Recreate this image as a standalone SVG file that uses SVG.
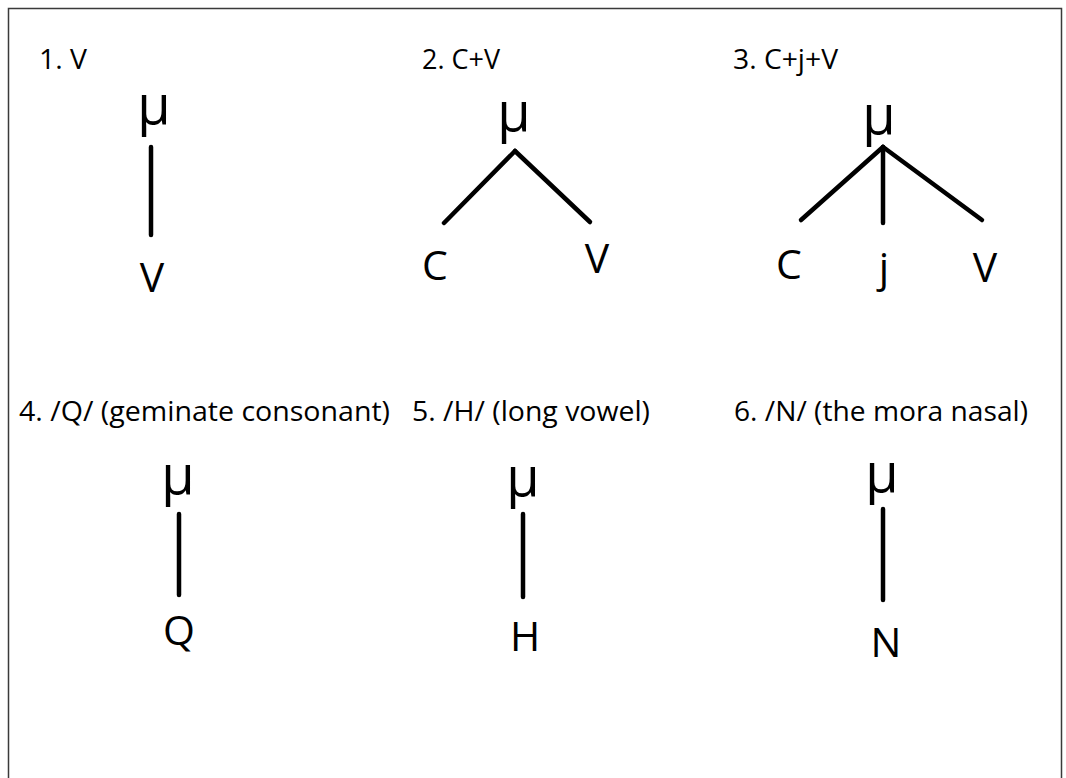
<svg xmlns="http://www.w3.org/2000/svg" width="1066" height="778" viewBox="0 0 1066 778">
  <style>
    .title { font-family: "Open Sans", "Liberation Sans", sans-serif; font-size: 27px; fill: #000; }
    .mu { font-family: "Open Sans", "Liberation Sans", sans-serif; font-size: 54px; fill: #000; text-anchor: middle; }
    .seg { font-family: "Open Sans", "Liberation Sans", sans-serif; font-size: 41px; fill: #000; text-anchor: middle; }
    .link { stroke: #000; stroke-width: 4.5; stroke-linecap: round; fill: none; }
  </style>
  <rect width="1066" height="778" fill="#fff"/>
  <!-- frame: left, top and right sides only -->
  <path d="M8.5 778 V8.5 H1061.5 V778" fill="none" stroke="#3a3a3a" stroke-width="1.5"/>

  <g id="connectors">
    <line class="link" x1="151" y1="147" x2="151" y2="235"/>
    <line class="link" x1="515" y1="151" x2="444" y2="223"/>
    <line class="link" x1="515" y1="151" x2="590" y2="222"/>
    <line class="link" x1="883" y1="147" x2="801" y2="220"/>
    <line class="link" x1="883" y1="147" x2="883" y2="223"/>
    <line class="link" x1="883" y1="147" x2="982" y2="220"/>
    <line class="link" x1="179" y1="514" x2="179" y2="595"/>
    <line class="link" x1="523" y1="514" x2="523" y2="597"/>
    <line class="link" x1="883" y1="509" x2="883" y2="600"/>
  </g>

  <g id="panel-1">
    <text class="title" x="39" y="69" textLength="48" lengthAdjust="spacingAndGlyphs">1. V</text>
    <text class="mu" x="154" y="124">μ</text>
    <text class="seg" x="152" y="292">V</text>
  </g>
  <g id="panel-2">
    <text class="title" x="422" y="69" textLength="78" lengthAdjust="spacingAndGlyphs">2. C+V</text>
    <text class="mu" x="514" y="131">μ</text>
    <text class="seg" x="435" y="280">C</text>
    <text class="seg" x="597" y="273">V</text>
  </g>
  <g id="panel-3">
    <text class="title" x="733" y="69" textLength="105" lengthAdjust="spacingAndGlyphs">3. C+j+V</text>
    <text class="mu" x="879" y="134">μ</text>
    <text class="seg" x="789" y="279">C</text>
    <text class="seg" x="884" y="282">j</text>
    <text class="seg" x="985" y="282">V</text>
  </g>
  <g id="panel-4">
    <text class="title" x="19" y="421" textLength="371" lengthAdjust="spacingAndGlyphs">4. /Q/ (geminate consonant)</text>
    <text class="mu" x="178" y="494">μ</text>
    <text class="seg" x="179" y="645">Q</text>
  </g>
  <g id="panel-5">
    <text class="title" x="412" y="421" textLength="238" lengthAdjust="spacingAndGlyphs">5. /H/ (long vowel)</text>
    <text class="mu" x="523" y="496">μ</text>
    <text class="seg" x="525" y="651">H</text>
  </g>
  <g id="panel-6">
    <text class="title" x="734" y="421" textLength="294" lengthAdjust="spacingAndGlyphs">6. /N/ (the mora nasal)</text>
    <text class="mu" x="882" y="492">μ</text>
    <text class="seg" x="886" y="657">N</text>
  </g>
</svg>
